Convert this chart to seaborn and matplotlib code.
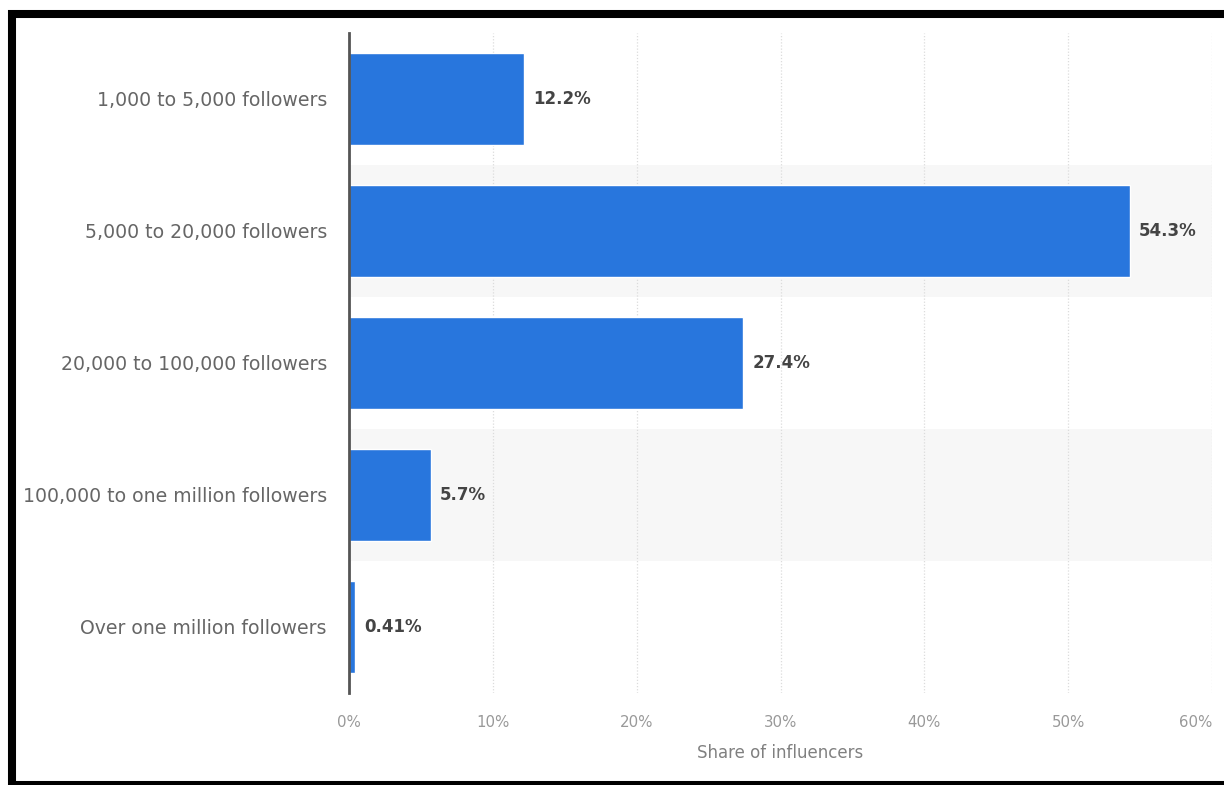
import matplotlib
matplotlib.use("Agg")
import matplotlib.pyplot as plt
import seaborn as sns
import pandas as pd
from matplotlib.patches import Rectangle
from matplotlib.ticker import FuncFormatter

categories = [
    "1,000 to 5,000 followers",
    "5,000 to 20,000 followers",
    "20,000 to 100,000 followers",
    "100,000 to one million followers",
    "Over one million followers",
]
shares = [12.2, 54.3, 27.4, 5.7, 0.41]
value_labels = ["12.2%", "54.3%", "27.4%", "5.7%", "0.41%"]
x_ticks = [0, 10, 20, 30, 40, 50, 60]

df = pd.DataFrame({"category": categories, "share": shares})

sns.set_theme(style="white")
plt.rcParams["font.family"] = ["DejaVu Sans"]

fig = plt.figure(figsize=(12.24, 7.85), dpi=100)
ax = fig.add_axes([349 / 1224, 1 - 693 / 785, (1212 - 349) / 1224, (693 - 33) / 785])

# alternating row shading
for i in range(len(categories)):
    if i % 2 == 1:
        ax.axhspan(i - 0.5, i + 0.5, color="#f7f7f7", zorder=0, lw=0)

sns.barplot(data=df, x="share", y="category", orient="h", color="#2876dd",
            width=0.7, saturation=1, ax=ax, zorder=3)

ax.set_xlim(0, 60)
ax.set_ylim(len(categories) - 0.5, -0.5)
ax.set_xticks(x_ticks)
ax.xaxis.set_major_formatter(FuncFormatter(lambda v, p: f"{v:.0f}%"))
ax.grid(axis="x", color="#dcdcdc", linestyle=(0, (1, 1.5)), linewidth=0.9, zorder=1)
ax.grid(axis="y", visible=False)

for sp in ["top", "right", "bottom"]:
    ax.spines[sp].set_visible(False)
ax.spines["left"].set_color("#555555")
ax.spines["left"].set_linewidth(2)
ax.spines["left"].set_zorder(4)

ax.tick_params(axis="y", length=0, pad=16, labelsize=13.6, labelcolor="#666666")
ax.tick_params(axis="x", length=0, pad=16, labelsize=10.8, labelcolor="#999999")
# keep the last tick label inside the frame
xt_labels = ax.get_xticklabels()
xt_labels[-1].set_horizontalalignment("right")
xt_labels[-1].set_x(x_ticks[-1])
ax.set_ylabel("")
ax.set_xlabel("Share of influencers", fontsize=12, color="#808080", labelpad=10)

for i, (v, lab) in enumerate(zip(shares, value_labels)):
    ax.annotate(lab, xy=(v, i), xytext=(6.5, 0), textcoords="offset points",
                ha="left", va="center", fontsize=12, fontweight="bold",
                color="#444444", zorder=5)

# outer frame
fig.patches.append(Rectangle((12 / 1224, 0 / 785), 1.05, (785 - 13.5) / 785,
                             transform=fig.transFigure, fill=False,
                             edgecolor="black", linewidth=5.8, zorder=10))

fig.savefig("out.png", dpi=100, facecolor="white")
